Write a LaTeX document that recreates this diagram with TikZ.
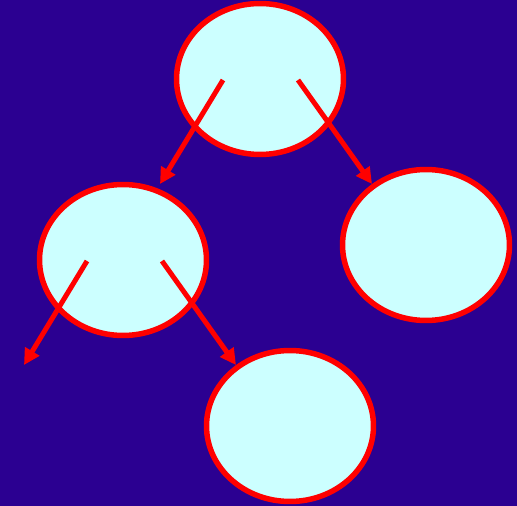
\documentclass[tikz,border=0pt]{standalone}
\usepackage{xcolor}
\usepackage{tikz}
\usetikzlibrary{shapes.geometric, arrows.meta}
\definecolor{treebg}{RGB}{43,0,145}
\definecolor{nodecyan}{RGB}{204,255,255}
\definecolor{edgered}{RGB}{255,0,0}
\tikzset{
  treenode/.style={ellipse, draw=edgered, fill=nodecyan, line width=0.11cm,
    minimum width=3.34cm, minimum height=3.02cm, inner sep=0pt},
  treearrow/.style={-{Triangle[length=0.32cm, width=0.32cm]}, line width=0.1cm,
    color=edgered},
}
\begin{document}
\begin{tikzpicture}[x=0.02cm, y=-0.02cm]
  \fill[treebg] (0,0) rectangle (517,506);
  \useasboundingbox (0,0) rectangle (517,506);
  % nodes
  \node[treenode] (root) at (260,79) {};
  \node[treenode] (leftc) at (123,260) {};
  \node[treenode] (rightc) at (426,245) {};
  \node[treenode] (lowc) at (290,426) {};
  % arrow ends
  \coordinate (rootL) at (223,80);
  \coordinate (rootR) at (298,80);
  \coordinate (leftL) at (87,261);
  \coordinate (leftR) at (162,261);
  \coordinate (toLeft) at (160,184);
  \coordinate (toRight) at (372,184);
  \coordinate (nullL) at (24,365);
  \coordinate (toLow) at (236,365);
  \draw[treearrow] (rootL) -- (toLeft);
  \draw[treearrow] (rootR) -- (toRight);
  \draw[treearrow] (leftL) -- (nullL);
  \draw[treearrow] (leftR) -- (toLow);
\end{tikzpicture}
\end{document}
